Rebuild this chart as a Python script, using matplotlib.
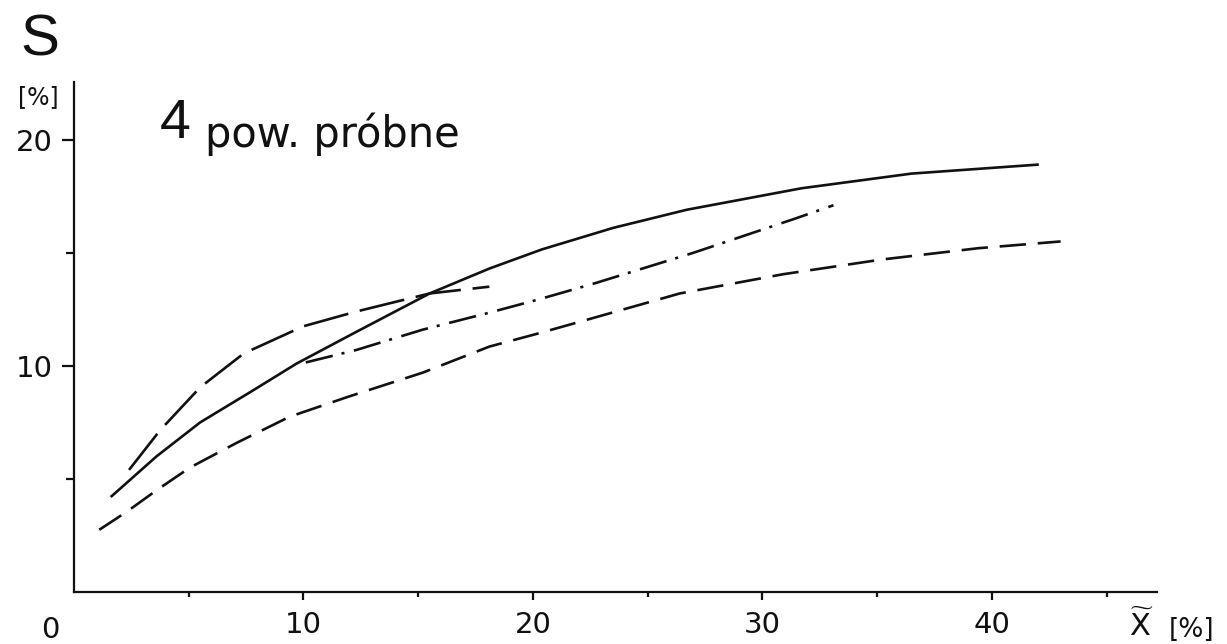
import matplotlib
matplotlib.use("Agg")
import matplotlib.pyplot as plt
from matplotlib.ticker import FixedLocator

plt.rcParams['font.family'] = ['DejaVu Sans']
plt.rcParams['mathtext.fontset'] = 'dejavusans'
plt.rcParams['lines.scale_dashes'] = False

# solid curve
solid_x = [1.6, 3.6, 5.5, 7.7, 9.7, 12.3, 15.5, 18.1, 20.4, 23.5, 26.7, 31.7, 36.5, 42.05]
solid_y = [4.2, 6.0, 7.5, 8.85, 10.1, 11.5, 13.2, 14.3, 15.15, 16.1, 16.9, 17.85, 18.5, 18.9]

# long-dashed upper curve (short)
longdash_x = [2.4, 3.75, 5.5, 7.4, 10.0, 12.3, 15.5, 18.1]
longdash_y = [5.4, 7.15, 9.05, 10.55, 11.75, 12.4, 13.2, 13.5]

# dash-dot curve
dashdot_x = [10.1, 12.3, 15.2, 18.1, 20.3, 22.7, 27.0, 29.2, 31.4, 33.1]
dashdot_y = [10.15, 10.7, 11.6, 12.35, 12.95, 13.65, 15.0, 15.75, 16.5, 17.1]

# short-dashed lower curve
dashed_x = [1.1, 2.3, 3.6, 5.05, 7.1, 9.4, 12.0, 15.2, 18.1, 20.3, 22.4, 26.4, 30.9, 35.2, 39.4, 43.0]
dashed_y = [2.75, 3.55, 4.5, 5.5, 6.6, 7.75, 8.65, 9.7, 10.85, 11.45, 12.05, 13.2, 14.05, 14.7, 15.2, 15.5]

x_major = [10, 20, 30, 40]
x_major_labels = ['10', '20', '30', '40']
x_minor = [5, 15, 25, 35, 45]
y_major = [10, 20]
y_major_labels = ['10', '20']
y_minor = [5, 15]

W, H = 1227, 644
fig = plt.figure(figsize=(W / 100, H / 100), dpi=100)
ax = fig.add_axes([74 / W, (H - 592) / H, (1157 - 74) / W, (592 - 82) / H])
ax.set_xlim(0, 47.2)
ax.set_ylim(0, 22.55)

ink = '#111111'
lw = 1.9
ax.plot(solid_x, solid_y, color=ink, lw=lw, solid_capstyle='butt')
ax.plot(longdash_x, longdash_y, color=ink, lw=lw, dashes=(33, 8.5), dash_capstyle='butt')
ax.plot(dashdot_x, dashdot_y, color=ink, lw=lw, dashes=(20, 6.5, 2.2, 7), dash_capstyle='butt')
ax.plot(dashed_x, dashed_y, color=ink, lw=lw, dashes=(19, 8.5), dash_capstyle='butt')

for s in ['top', 'right']:
    ax.spines[s].set_visible(False)
for s in ['left', 'bottom']:
    ax.spines[s].set_linewidth(1.6)
    ax.spines[s].set_color(ink)

ax.xaxis.set_major_locator(FixedLocator(x_major))
ax.xaxis.set_minor_locator(FixedLocator(x_minor))
ax.yaxis.set_major_locator(FixedLocator(y_major))
ax.yaxis.set_minor_locator(FixedLocator(y_minor))
ax.set_xticklabels(x_major_labels)
ax.set_yticklabels(y_major_labels)

ax.tick_params(axis='x', which='major', direction='out', length=6, width=1.6,
               color=ink, labelsize=21, pad=8, labelcolor=ink)
ax.tick_params(axis='x', which='minor', direction='out', length=3.5, width=1.6, color=ink)
ax.tick_params(axis='y', which='major', direction='out', length=9, width=1.6,
               color=ink, labelsize=21, pad=6, labelcolor=ink)
ax.tick_params(axis='y', which='minor', direction='out', length=6, width=1.6, color=ink)

# origin label
fig.text(50 / W, 1 - 630 / H, '0', ha='center', va='center', fontsize=21, color=ink)

# x-axis label: X with tilde, [%]
fig.text(1142 / W, 1 - 642 / H, r'$\widetilde{\mathrm{X}}$', ha='center', va='bottom',
         fontsize=22, color=ink)
fig.text(1192 / W, 1 - 630 / H, '[%]', ha='center', va='center', fontsize=19, color=ink)

# y-axis label
fig.text(40 / W, 1 - 40 / H, 'S', ha='center', va='center', fontsize=42, color=ink,
         family='Liberation Sans')
fig.text(38 / W, 1 - 97 / H, '[%]', ha='center', va='center', fontsize=17, color=ink)

# panel title
fig.text(175 / W, 1 - 124 / H, '4', ha='center', va='center', fontsize=40, color=ink,
         family='Liberation Sans')
fig.text(205 / W, 1 - 147 / H, 'pow. próbne', ha='left', va='baseline', fontsize=30, color=ink)

fig.savefig('out.png', dpi=100)
